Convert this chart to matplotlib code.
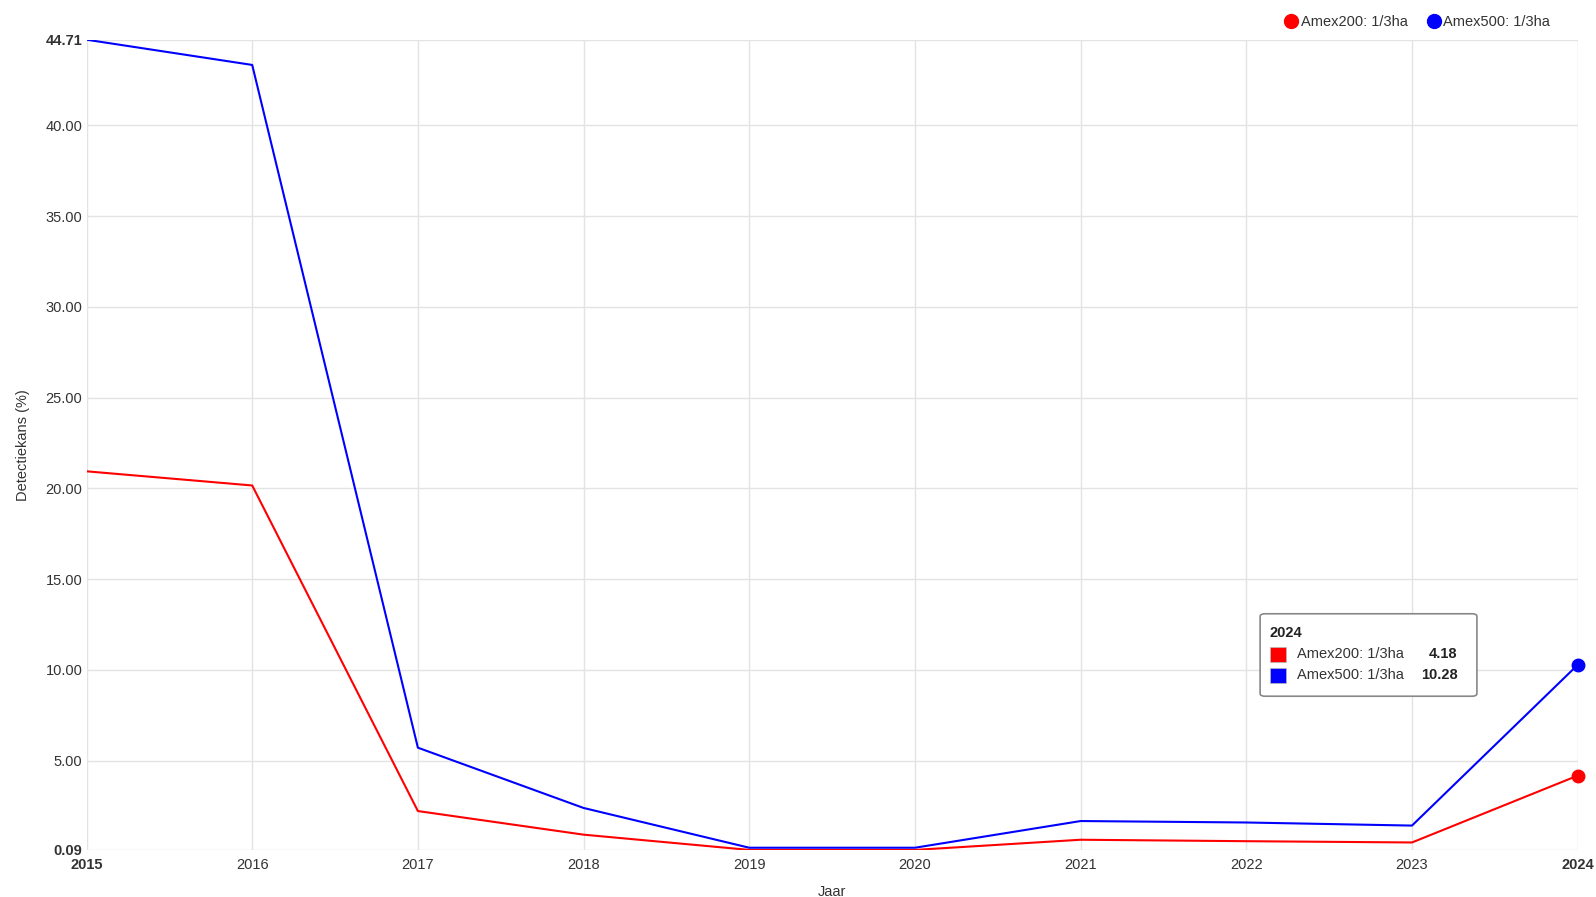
import matplotlib
matplotlib.use("Agg")
import matplotlib.pyplot as plt
from matplotlib.lines import Line2D
from matplotlib.patches import FancyBboxPatch, Rectangle

plt.rcParams['font.family'] = ['Liberation Sans', 'DejaVu Sans']

# data
years = [2015, 2016, 2017, 2018, 2019, 2020, 2021, 2022, 2023, 2024]
amex200 = [20.94, 20.16, 2.23, 0.93, 0.09, 0.09, 0.65, 0.57, 0.50, 4.18]
amex500 = [44.71, 43.32, 5.72, 2.40, 0.21, 0.21, 1.68, 1.60, 1.43, 10.28]
series_names = ["Amex200: 1/3ha", "Amex500: 1/3ha"]
series_colors = ["#ff0000", "#0000ff"]
y_ticks = [0.09, 5, 10, 15, 20, 25, 30, 35, 40, 44.71]

W, H = 1596, 897
S = 1596 / 1568  # layout measured on a 1568 px wide view
FS = 10.5

def fx(px):
    return px * S / W

def fy(py):
    return 1 - py * S / H

fig = plt.figure(figsize=(W / 100, H / 100), dpi=100)
ax = fig.add_axes([fx(85), fy(835), fx(1550) - fx(85), fy(39) - fy(835)])

for vals, col in zip([amex200, amex500], series_colors):
    ax.plot(years, vals, color=col, lw=1.5, zorder=3)
    ax.plot(years[-1], vals[-1], 'o', color=col, ms=9, zorder=4, clip_on=False)

ax.set_xlim(years[0], years[-1])
ax.set_ylim(y_ticks[0], y_ticks[-1])
ax.set_xticks(years)
ax.set_yticks(y_ticks)
ax.set_yticklabels(["%.2f" % v for v in y_ticks])
ax.grid(True, color="#e3e3e3", lw=1)
ax.set_axisbelow(True)
for s in ax.spines.values():
    s.set_visible(False)
ax.tick_params(axis='both', length=0, labelsize=FS, colors="#333333")
ax.tick_params(axis='x', pad=6)
ax.tick_params(axis='y', pad=3)
for lab in [ax.get_xticklabels()[0], ax.get_xticklabels()[-1],
            ax.get_yticklabels()[0], ax.get_yticklabels()[-1]]:
    lab.set_fontweight('bold')

ax.set_xlabel("Jaar", fontsize=FS, color="#333333", labelpad=9)
ax.set_ylabel("Detectiekans (%)", fontsize=FS, color="#333333", labelpad=11)

# legend on top
handles = [Line2D([], [], marker='o', ls='', color=c, ms=10) for c in series_colors]
fig.legend(handles, series_names, loc='upper right', ncol=2, frameon=False,
           bbox_to_anchor=(fx(1536), fy(2)), fontsize=FS, handletextpad=0.05,
           columnspacing=1.2, handlelength=1.2, labelcolor="#333333")

# tooltip box
box = FancyBboxPatch((fx(1238), fy(684)), fx(1451) - fx(1238), fy(603) - fy(684),
                     boxstyle="round,pad=0,rounding_size=0.003",
                     transform=fig.transFigure, facecolor="white",
                     edgecolor="#888888", lw=1.2, zorder=10)
fig.patches.append(box)
fig.text(fx(1247), fy(622), str(years[-1]), fontsize=FS, fontweight='bold',
         va='center', ha='left', zorder=11, color="#222222")
last_vals = [amex200[-1], amex500[-1]]
for i, (name, col, v) in enumerate(zip(series_names, series_colors, last_vals)):
    yc = 643 + i * 20.5
    fig.patches.append(Rectangle((fx(1248), fy(yc + 7.5)), fx(15), 15 * S / H,
                                 transform=fig.transFigure, facecolor=col,
                                 edgecolor="#bbbbbb", lw=0.5, zorder=11))
    fig.text(fx(1274), fy(yc), name, fontsize=FS, va='center', ha='left',
             zorder=11, color="#333333")
    fig.text(fx(1432), fy(yc), "%.2f" % v, fontsize=FS, fontweight='bold',
             va='center', ha='right', zorder=11, color="#222222")

fig.savefig("out.png", dpi=100, facecolor="white")
